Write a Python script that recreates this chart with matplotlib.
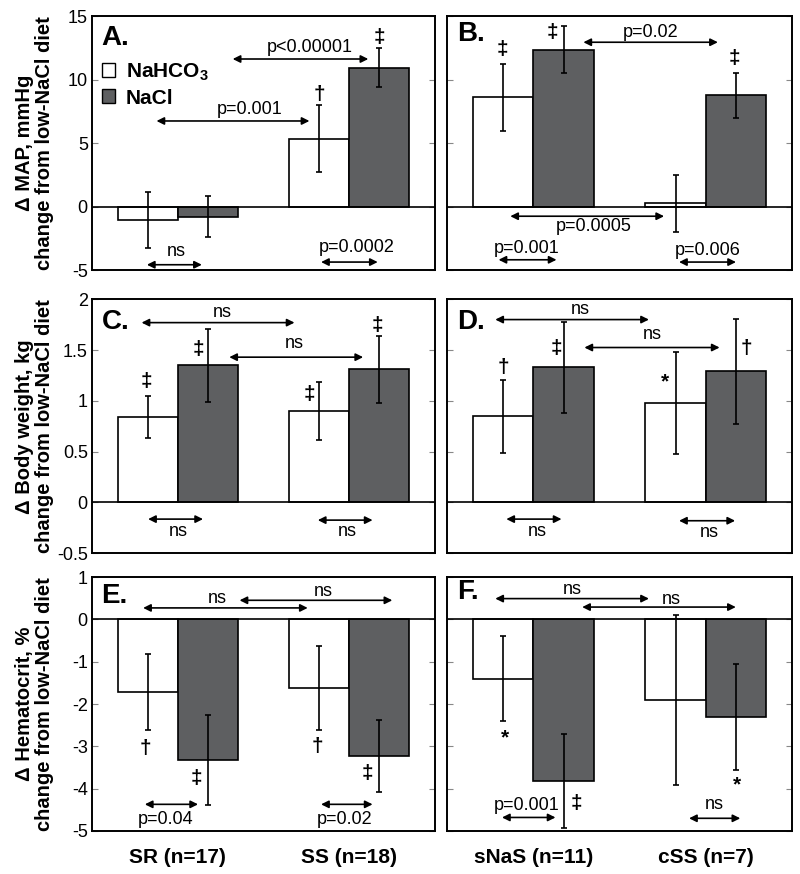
import numpy as np
import matplotlib
matplotlib.use('Agg')
import matplotlib.pyplot as plt
from matplotlib.patches import Patch

plt.rcParams['font.family'] = ['Liberation Sans', 'DejaVu Sans']
plt.rcParams['mathtext.fontset'] = 'custom'
plt.rcParams['mathtext.rm'] = 'Liberation Sans'
plt.rcParams['mathtext.bf'] = 'Liberation Sans:bold'

# 组别标签
groups_left = ['SR (n=17)', 'SS (n=18)']
groups_right = ['sNaS (n=11)', 'cSS (n=7)']

# A. 平均动脉压 (SR / SS)
map_lr_hco3 = [-1.05, 5.35]
map_lr_hco3_err = [2.2, 2.65]
map_lr_nacl = [-0.8, 10.95]
map_lr_nacl_err = [1.6, 1.5]
# B. 平均动脉压 (sNaS / cSS)
map_ss_hco3 = [8.6, 0.25]
map_ss_hco3_err = [2.65, 2.25]
map_ss_nacl = [12.35, 8.75]
map_ss_nacl_err = [1.85, 1.8]

# C. 体重 (SR / SS)
bw_lr_hco3 = [0.84, 0.90]
bw_lr_hco3_err = [0.21, 0.29]
bw_lr_nacl = [1.35, 1.31]
bw_lr_nacl_err = [0.36, 0.33]
# D. 体重 (sNaS / cSS)
bw_ss_hco3 = [0.85, 0.98]
bw_ss_hco3_err = [0.36, 0.50]
bw_ss_nacl = [1.33, 1.29]
bw_ss_nacl_err = [0.45, 0.52]

# E. 红细胞压积 (SR / SS)
hct_lr_hco3 = [-1.72, -1.62]
hct_lr_hco3_err = [0.9, 1.0]
hct_lr_nacl = [-3.33, -3.22]
hct_lr_nacl_err = [1.06, 0.85]
# F. 红细胞压积 (sNaS / cSS)
hct_ss_hco3 = [-1.4, -1.91]
hct_ss_hco3_err = [1.0, 2.01]
hct_ss_nacl = [-3.81, -2.31]
hct_ss_nacl_err = [1.11, 1.26]

# 纵轴刻度
map_ticks = [-5, 0, 5, 10, 15]
map_ticklabels = ['-5', '0', '5', '10', '15']
bw_ticks = [-0.5, 0, 0.5, 1, 1.5, 2]
bw_ticklabels = ['-0.5', '0', '0.5', '1', '1.5', '2']
hct_ticks = [-5, -4, -3, -2, -1, 0, 1]
hct_ticklabels = ['-5', '-4', '-3', '-2', '-1', '0', '1']

ylabels = ['\u0394 MAP, mmHg\nchange from low-NaCl diet',
           '\u0394 Body weight, kg\nchange from low-NaCl diet',
           '\u0394 Hematocrit, %\nchange from low-NaCl diet']

# 统计标注: (x1, x2, y_arrow, text, x_text, y_text)
arrows = {
    'A': [(0.82, 1.14, -4.58, 'ns', 0.99, -3.53),
          (1.835, 2.165, -4.37, 'p=0.0002', 2.04, -3.25),
          (0.876, 1.767, 6.74, 'p=0.001', 1.42, 7.67),
          (1.32, 2.11, 11.62, 'p<0.00001', 1.77, 12.55)],
    'B': [(1.29, 2.07, 12.94, 'p=0.02', 1.68, 13.73),
          (0.866, 1.758, -0.76, 'p=0.0005', 1.35, -1.56),
          (0.798, 1.134, -4.19, 'p=0.001', 0.963, -3.27),
          (1.845, 2.175, -4.37, 'p=0.006', 2.01, -3.45)],
    'C': [(0.789, 1.68, 1.77, 'ns', 1.26, 1.87),
          (1.30, 2.08, 1.43, 'ns', 1.68, 1.56),
          (0.827, 1.147, -0.164, 'ns', 1.0, -0.29),
          (1.816, 2.135, -0.174, 'ns', 1.99, -0.29)],
    'D': [(0.779, 1.67, 1.80, 'ns', 1.27, 1.90),
          (1.296, 2.08, 1.525, 'ns', 1.69, 1.65),
          (0.843, 1.163, -0.164, 'ns', 1.02, -0.29),
          (1.845, 2.17, -0.18, 'ns', 2.02, -0.30)],
    'E': [(0.798, 1.757, 0.27, 'ns', 1.23, 0.50),
          (1.36, 2.25, 0.45, 'ns', 1.845, 0.66),
          (0.808, 1.118, -4.37, 'p=0.04', 0.93, -4.72),
          (1.835, 2.135, -4.37, 'p=0.02', 1.97, -4.72)],
    'F': [(0.779, 1.67, 0.49, 'ns', 1.225, 0.70),
          (1.283, 2.174, 0.29, 'ns', 1.80, 0.48),
          (0.818, 1.128, -4.68, 'p=0.001', 0.963, -4.40),
          (1.903, 2.20, -4.70, 'ns', 2.05, -4.38)],
}

# 显著性符号: (x, y, symbol)
marks = {
    'A': [(1.826, 8.85, '\u2020'), (2.174, 13.3, '\u2021')],
    'B': [(0.818, 12.4, '\u2021'), (1.109, 13.7, '\u2021'), (2.165, 11.67, '\u2021')],
    'C': [(0.818, 1.19, '\u2021'), (1.118, 1.51, '\u2021'),
          (1.767, 1.06, '\u2021'), (2.165, 1.745, '\u2021')],
    'D': [(0.824, 1.33, '\u2020'), (1.134, 1.52, '\u2021'),
          (1.763, 1.19, '*'), (2.233, 1.52, '\u2020')],
    'E': [(0.812, -3.04, '\u2020'), (1.109, -3.75, '\u2021'),
          (1.816, -3.0, '\u2020'), (2.106, -3.65, '\u2021')],
    'F': [(0.837, -2.80, '*'), (1.248, -4.34, '\u2021'), (2.18, -3.90, '*')],
}

letter_y = {'A': 13.3, 'B': 13.6, 'C': 1.78, 'D': 1.78, 'E': 0.54, 'F': 0.64}

GRAY = '#5e5f61'
W = 0.35


def draw_panel(ax, key, hco3, hco3_err, nacl, nacl_err, ylim, ticks, ticklabels, show_labels):
    x = np.array([1, 2])
    ax.bar(x - W / 2, hco3, W, color='white', edgecolor='black', linewidth=1.2, zorder=2)
    ax.bar(x + W / 2, nacl, W, color=GRAY, edgecolor='black', linewidth=1.2, zorder=2)
    ax.errorbar(x - W / 2, hco3, yerr=hco3_err, fmt='none', ecolor='black',
                elinewidth=1.2, capsize=2.5, capthick=1.2, zorder=3)
    ax.errorbar(x + W / 2, nacl, yerr=nacl_err, fmt='none', ecolor='black',
                elinewidth=1.2, capsize=2.5, capthick=1.2, zorder=3)
    ax.axhline(0, color='black', lw=1.2, zorder=4)
    ax.set_xlim(0.5, 2.5)
    ax.set_ylim(*ylim)
    ax.set_yticks(ticks)
    if show_labels:
        ax.set_yticklabels(ticklabels, fontsize=13)
    else:
        ax.set_yticklabels([])
    ax.tick_params(axis='y', direction='in', length=4, width=0.8, color='#888888',
                   left=True, right=True, pad=3)
    for s in ax.spines.values():
        s.set_linewidth(1.4)

    for x1, x2, ya, txt, xt, yt in arrows[key]:
        ax.annotate('', xy=(x2, ya), xytext=(x1, ya),
                    arrowprops=dict(arrowstyle='<|-|>', color='black', lw=1.2,
                                    shrinkA=0, shrinkB=0, mutation_scale=11))
        ax.text(xt, yt, txt, ha='center', va='center', fontsize=13)
    for xm, ym, sym in marks[key]:
        ax.text(xm, ym, sym, ha='center', va='center', fontsize=15, fontweight='bold')
    ax.text(0.556, letter_y[key], key + '.', ha='left', va='center',
            fontsize=20, fontweight='bold')


fig = plt.figure(figsize=(8, 8.74), dpi=100)

col_left = [0.115, 0.559]
col_w = [0.429, 0.431]
row_bottom = [0.691, 0.367, 0.0492]
row_h = 0.2906

panels = [
    ('A', 0, 0, map_lr_hco3, map_lr_hco3_err, map_lr_nacl, map_lr_nacl_err, (-5, 15), map_ticks, map_ticklabels),
    ('B', 0, 1, map_ss_hco3, map_ss_hco3_err, map_ss_nacl, map_ss_nacl_err, (-5, 15), map_ticks, map_ticklabels),
    ('C', 1, 0, bw_lr_hco3, bw_lr_hco3_err, bw_lr_nacl, bw_lr_nacl_err, (-0.5, 2), bw_ticks, bw_ticklabels),
    ('D', 1, 1, bw_ss_hco3, bw_ss_hco3_err, bw_ss_nacl, bw_ss_nacl_err, (-0.5, 2), bw_ticks, bw_ticklabels),
    ('E', 2, 0, hct_lr_hco3, hct_lr_hco3_err, hct_lr_nacl, hct_lr_nacl_err, (-5, 1), hct_ticks, hct_ticklabels),
    ('F', 2, 1, hct_ss_hco3, hct_ss_hco3_err, hct_ss_nacl, hct_ss_nacl_err, (-5, 1), hct_ticks, hct_ticklabels),
]

axes = {}
for key, r, c, h, he, n, ne, ylim, ticks, tl in panels:
    ax = fig.add_axes([col_left[c], row_bottom[r], col_w[c], row_h])
    draw_panel(ax, key, h, he, n, ne, ylim, ticks, tl, show_labels=(c == 0))
    if r == 2:
        ax.set_xticks([1, 2])
        ax.set_xticklabels(groups_left if c == 0 else groups_right,
                           fontsize=15, fontweight='bold')
        ax.tick_params(axis='x', length=0, pad=12)
    else:
        ax.set_xticks([])
    axes[key] = ax

# 纵轴标题
for r, lab in enumerate(ylabels):
    yc = row_bottom[r] + row_h / 2
    fig.text(0.043, yc, lab, rotation=90, ha='center', va='center',
             fontsize=14.5, fontweight='bold', linespacing=1.05,
             multialignment='center')

# 图例
handles = [Patch(facecolor='white', edgecolor='black', linewidth=1.0, label=r'NaHCO$_\mathbf{3}$'),
           Patch(facecolor=GRAY, edgecolor='black', linewidth=1.0, label='NaCl')]
leg = axes['A'].legend(handles=handles, loc='center left', bbox_to_anchor=(0.029, 0.73),
                       frameon=False, handlelength=0.65, handleheight=0.65,
                       handletextpad=0.5, labelspacing=0.25, borderpad=0,
                       borderaxespad=0, prop={'size': 15, 'weight': 'bold'})

fig.savefig('out.png', dpi=100)
